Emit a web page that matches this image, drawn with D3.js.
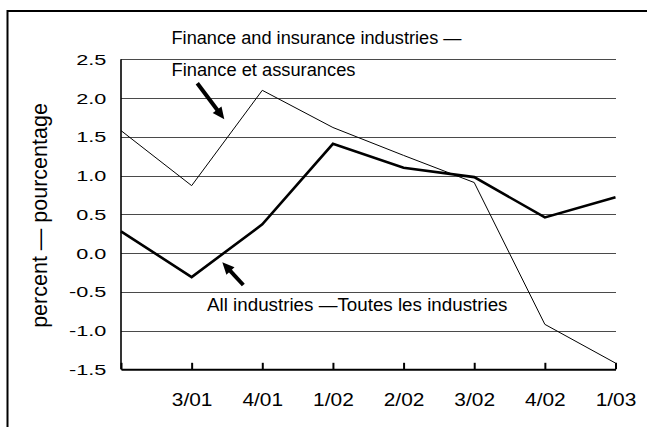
<!DOCTYPE html>
<html>
<head>
<meta charset="utf-8">
<script src="https://cdn.jsdelivr.net/npm/d3@7"></script>
<style>
  html, body { margin: 0; padding: 0; background: #fff; }
  svg { display: block; }
</style>
</head>
<body>
<script>
// ---- data ----
const categories = ["2/01", "3/01", "4/01", "1/02", "2/02", "3/02", "4/02", "1/03"];
const tickLabels = ["", "3/01", "4/01", "1/02", "2/02", "3/02", "4/02", "1/03"];
const financeValues = [1.58, 0.87, 2.10, 1.62, 1.26, 0.91, -0.92, -1.42];
const allIndustriesValues = [0.28, -0.31, 0.37, 1.41, 1.10, 0.98, 0.46, 0.72];
const yTickValues = [-1.5, -1.0, -0.5, 0.0, 0.5, 1.0, 1.5, 2.0, 2.5];
const yTickLabels = ["-1.5", "-1.0", "-0.5", "0.0", "0.5", "1.0", "1.5", "2.0", "2.5"];
const yTitle = "percent \u2014 pourcentage";
const financeLabel1 = "Finance and insurance industries \u2014";
const financeLabel2 = "Finance et assurances";
const allLabel = "All industries \u2014Toutes les industries";

(function () {
// ---- layout ----
const W = 647, H = 427;
const pLeft = 121, pRight = 615.5, pTop = 59.3, pBottom = 369.3;
const FONT = "'Liberation Sans', Arial, Helvetica, sans-serif";

const svg = d3.select("body").append("svg")
  .attr("width", W).attr("height", H)
  .attr("font-family", FONT);

// outer frame (extends past right/bottom edges)
svg.append("rect")
  .attr("x", 7.5).attr("y", 11).attr("width", 700).attr("height", 500)
  .attr("fill", "none").attr("stroke", "#000").attr("stroke-width", 2);

const x = d3.scalePoint().domain(categories).range([pLeft, pRight]);
const y = d3.scaleLinear().domain([-1.5, 2.5]).range([pBottom, pTop]);

// y axis with gridlines
const yAxis = svg.append("g")
  .attr("transform", `translate(${pLeft},0)`)
  .call(d3.axisLeft(y)
    .tickValues(yTickValues)
    .tickFormat(d => yTickLabels[yTickValues.indexOf(d)])
    .tickSizeInner(-(pRight - pLeft))
    .tickSizeOuter(0)
    .tickPadding(10.5));
yAxis.attr("font-family", FONT);
yAxis.select(".domain").remove();
yAxis.selectAll(".tick line").attr("stroke", "#4a4a4a").attr("stroke-width", 1)
  .attr("shape-rendering", "crispEdges");
yAxis.selectAll(".tick text")
  .attr("font-size", 15.5).attr("fill", "#000")
  .attr("transform", "scale(1.4,1)");

// y axis line
svg.append("line")
  .attr("x1", pLeft).attr("x2", pLeft)
  .attr("y1", y(2.5)).attr("y2", y(-1.5))
  .attr("stroke", "#000").attr("stroke-width", 1.6);

// x axis
const xAxis = svg.append("g")
  .attr("transform", `translate(0,${y(-1.5)})`)
  .call(d3.axisBottom(x)
    .tickFormat(d => tickLabels[categories.indexOf(d)])
    .tickSizeInner(-6.5)
    .tickSizeOuter(0)
    .tickPadding(23.3));
xAxis.attr("font-family", FONT);
xAxis.select(".domain").attr("stroke", "#000").attr("stroke-width", 2);
xAxis.selectAll(".tick line").attr("stroke", "#000").attr("stroke-width", 2);
xAxis.selectAll(".tick text")
  .attr("font-size", 19).attr("fill", "#000")
  .attr("transform", "scale(1.1,1)");

// y title
svg.append("text")
  .attr("transform", "translate(46.5,215.5) rotate(-90)")
  .attr("text-anchor", "middle")
  .attr("font-size", 21.5)
  .attr("fill", "#000")
  .text(yTitle);

// lines
const line = d3.line()
  .x((d, i) => x(categories[i]))
  .y(d => y(d));

svg.append("path")
  .datum(financeValues)
  .attr("d", line)
  .attr("fill", "none").attr("stroke", "#000").attr("stroke-width", 1);

svg.append("path")
  .datum(allIndustriesValues)
  .attr("d", line)
  .attr("fill", "none").attr("stroke", "#000").attr("stroke-width", 2.6)
  .attr("stroke-linejoin", "miter");

// annotations
function label(txt, x0, yb, len) {
  svg.append("text")
    .attr("x", x0).attr("y", yb)
    .attr("font-size", 17.5).attr("fill", "#000")
    .attr("textLength", len).attr("lengthAdjust", "spacingAndGlyphs")
    .text(txt);
}
label(financeLabel1, 171.5, 44, 290);
label(financeLabel2, 171.5, 75.7, 184);
label(allLabel, 207, 311, 300.5);

function arrow(sx, sy, tx, ty) {
  const dx = tx - sx, dy = ty - sy, L = Math.hypot(dx, dy);
  const ux = dx / L, uy = dy / L, px = -uy, py = ux;
  const headLen = 12, headHalf = 5.5;
  const bx = tx - ux * headLen, by = ty - uy * headLen;
  svg.append("line")
    .attr("x1", sx).attr("y1", sy)
    .attr("x2", tx - ux * (headLen - 2)).attr("y2", ty - uy * (headLen - 2))
    .attr("stroke", "#000").attr("stroke-width", 4);
  svg.append("path")
    .attr("d", `M${tx},${ty}L${bx + px * headHalf},${by + py * headHalf}L${bx - px * headHalf},${by - py * headHalf}Z`)
    .attr("fill", "#000");
}
arrow(197.3, 83.3, 224.3, 119.3);
arrow(243.3, 285, 222.3, 262.3);
})();
</script>
</body>
</html>
